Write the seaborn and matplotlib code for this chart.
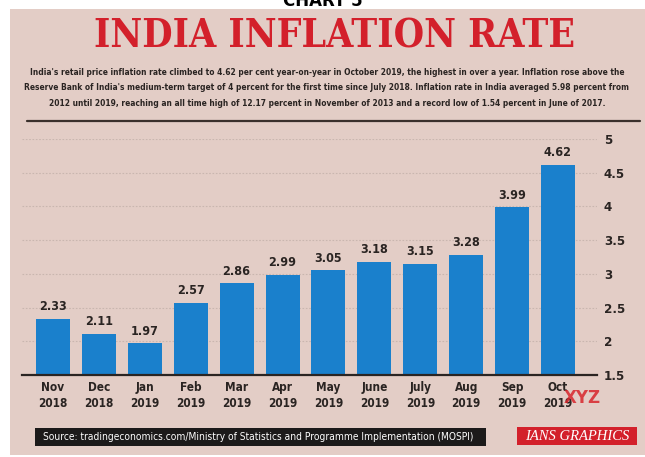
import matplotlib
matplotlib.use("Agg")
import matplotlib.pyplot as plt
from matplotlib.patches import Rectangle
import seaborn as sns
import pandas as pd

# Monthly CPI inflation, India
months = ["Nov", "Dec", "Jan", "Feb", "Mar", "Apr", "May", "June", "July", "Aug", "Sep", "Oct"]
years = ["2018", "2018", "2019", "2019", "2019", "2019", "2019", "2019", "2019", "2019", "2019", "2019"]
rates = [2.33, 2.11, 1.97, 2.57, 2.86, 2.99, 3.05, 3.18, 3.15, 3.28, 3.99, 4.62]
y_ticks = [1.5, 2, 2.5, 3, 3.5, 4, 4.5, 5]
y_tick_labels = ["1.5", "2", "2.5", "3", "3.5", "4", "4.5", "5"]

title = "INDIA INFLATION RATE"
subtitle = ("India's retail price inflation rate climbed to 4.62 per cent year-on-year in October 2019, the highest in over a year. Inflation rose above the\n"
            "Reserve Bank of India's medium-term target of 4 percent for the first time since July 2018. Inflation rate in India averaged 5.98 percent from\n"
            "2012 until 2019, reaching an all time high of 12.17 percent in November of 2013 and a record low of 1.54 percent in June of 2017.")
source = "Source: tradingeconomics.com/Ministry of Statistics and Programme Implementation (MOSPI)"

BG = "#e3cdc6"
BLUE = "#1a80cc"
RED = "#d3202b"
INK = "#2a2422"
COND = ["DejaVu Sans"]

sns.set_theme(style="white")
plt.rcParams["font.family"] = ["DejaVu Sans"]

W, H = 645, 457
fig = plt.figure(figsize=(W / 100, H / 100), dpi=100, facecolor="white")


def fx(px):
    return px / W


def fy(py):
    return 1 - py / H


# beige poster panel, kept behind the axes
fig.patches.append(Rectangle((fx(10), fy(455)), fx(635), (455 - 9) / H,
                             transform=fig.transFigure, facecolor=BG, edgecolor="none", zorder=-5))

fig.text(0.5, fy(6), "CHART 5", ha="center", va="baseline", fontsize=12,
         fontweight="bold", color="black")
fig.text(fx(334), fy(36), title, ha="center", va="center", fontsize=28,
         fontweight="bold", family=["DejaVu Serif"], fontstretch="condensed", color=RED)
fig.text(fx(327), fy(88), subtitle, ha="center", va="center", fontsize=6.0,
         fontweight="bold", family=COND, fontstretch="condensed", color=INK, linespacing=1.95)
fig.lines.append(plt.Line2D([fx(27), fx(640)], [fy(121), fy(121)], transform=fig.transFigure,
                            color="#3a302c", lw=1.6))

ax = fig.add_axes([fx(22), fy(375), fx(597 - 22), (375 - 139) / H])
ax.set_facecolor("none")

df = pd.DataFrame({"label": [f"{m}\n{y}" for m, y in zip(months, years)], "rate": rates})
sns.barplot(data=df, x="label", y="rate", color=BLUE, saturation=1, width=0.74,
            linewidth=0, edgecolor="none", ax=ax, zorder=3)

ax.set_ylim(1.5, 5)
ax.set_xlim(-0.675, 11.85)
ax.set_xlabel("")
ax.set_ylabel("")
ax.yaxis.tick_right()
ax.set_yticks(y_ticks)
ax.set_yticklabels(y_tick_labels)
ax.tick_params(axis="y", length=0, pad=5, labelsize=9.5, labelcolor=INK)
ax.tick_params(axis="x", length=0, pad=4, labelsize=8.5, labelcolor=INK)
for lab in ax.get_xticklabels() + ax.get_yticklabels():
    lab.set_fontweight("bold")
    lab.set_family(COND)
    lab.set_fontstretch("condensed")
for lab in ax.get_xticklabels():
    lab.set_linespacing(1.3)

ax.grid(axis="y", color="#c9b6af", lw=0.8, ls=(0, (1.5, 1.5)), zorder=0)
ax.grid(axis="x", visible=False)
for s in ["top", "left", "right"]:
    ax.spines[s].set_visible(False)
ax.spines["bottom"].set_color("#2a2422")
ax.spines["bottom"].set_linewidth(1.6)
ax.spines["bottom"].set_zorder(4)

for c in ax.containers:
    labels = ax.bar_label(c, fmt="%.2f", padding=4, fontsize=9, fontweight="bold", color=INK)
    for t in labels:
        t.set_family(COND)
        t.set_fontstretch("condensed")

# footer: source strip and agency tag
fig.patches.append(Rectangle((fx(35), fy(446)), fx(486 - 35), (446 - 428) / H,
                             transform=fig.transFigure, facecolor="#1c1a1a", edgecolor="none"))
fig.text(fx(258), fy(437.5), source, ha="center", va="center", fontsize=7.3,
         family=COND, fontstretch="condensed", color="white")
fig.patches.append(Rectangle((fx(517), fy(445)), fx(637 - 517), (445 - 427) / H,
                             transform=fig.transFigure, facecolor=RED, edgecolor="none"))
fig.text(fx(577), fy(436.5), "IANS GRAPHICS", ha="center", va="center", fontsize=10.5,
         family=["Liberation Serif"], style="italic", color="white")

fig.text(fx(582), fy(398), "XYZ", ha="center", va="center", fontsize=12, fontweight="bold",
         color="#d8262c", alpha=0.85)

fig.savefig("out.png", dpi=100, facecolor="white")
